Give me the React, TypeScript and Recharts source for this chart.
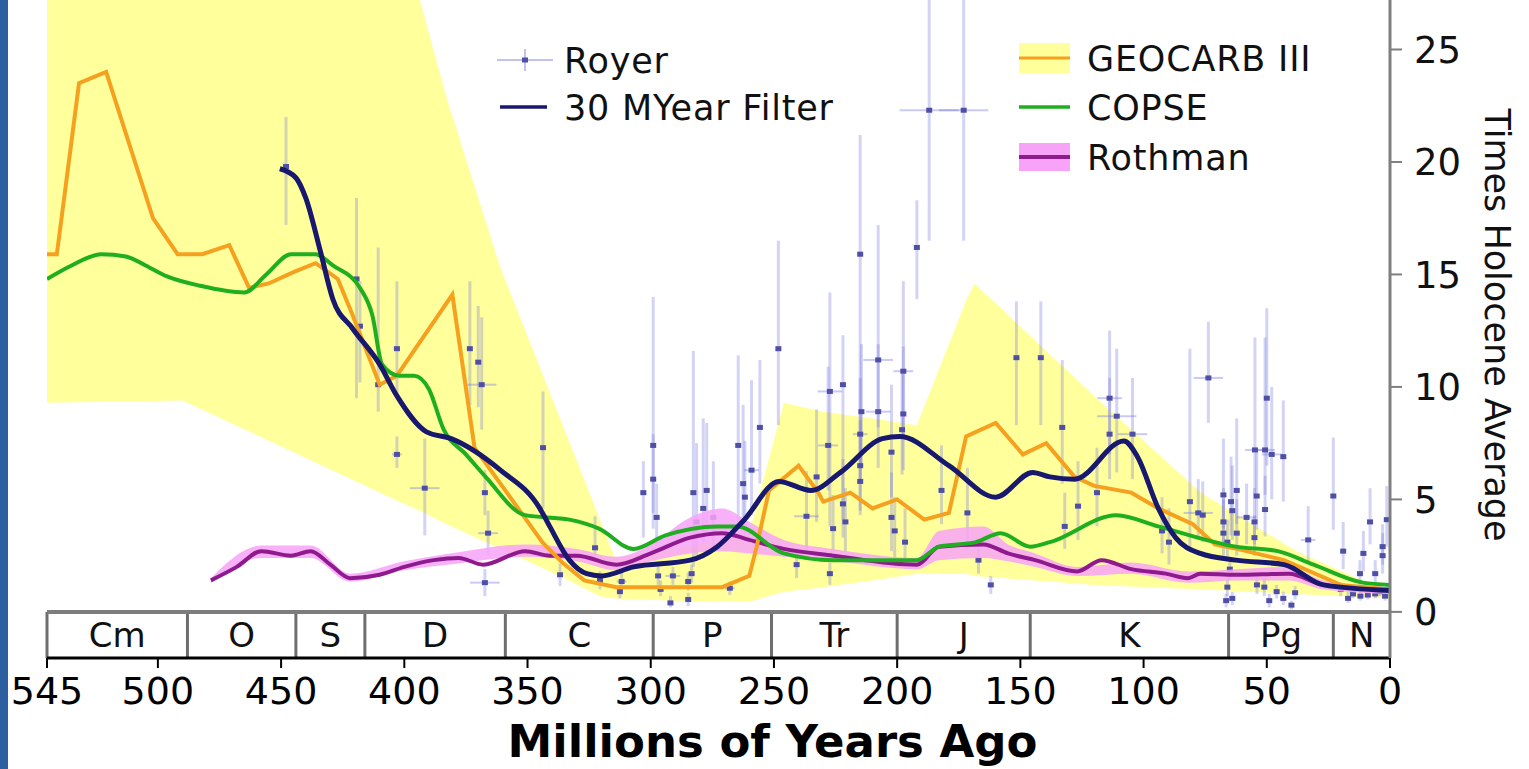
import {
  ComposedChart,
  Line,
  Area,
  Scatter,
  ErrorBar,
  XAxis,
  YAxis,
  ReferenceArea,
  ReferenceLine,
  Legend,
} from 'recharts';

type Pt = [number, number];
type Band = [number, number, number];
// age (Ma), value, error down, error up, age error
type Obs = [number, number, number, number, number];

const FONT = '"DejaVu Sans", Verdana, sans-serif';

const X_TICKS = [545, 500, 450, 400, 350, 300, 250, 200, 150, 100, 50, 0];
const Y_TICKS = [0, 5, 10, 15, 20, 25];
const Y_MIN = -2.05; // room for the period strip under zero
const Y_MAX = 27.2;

const PERIODS: [string, number, number][] = [
  ['Cm', 545, 488],
  ['O', 488, 444],
  ['S', 444, 416],
  ['D', 416, 359],
  ['C', 359, 299],
  ['P', 299, 251],
  ['Tr', 251, 200],
  ['J', 200, 146],
  ['K', 146, 65.5],
  ['Pg', 65.5, 23],
  ['N', 23, 0],
];

const GEOCARB_III: Pt[] = [
  [545, 15.9], [541, 15.9], [532, 23.5], [521, 24.0], [502, 17.5], [492, 15.9],
  [482, 15.9], [471, 16.3], [463, 14.4], [455, 14.6], [445, 15.1], [436, 15.5],
  [427, 14.8], [421, 13.2], [410, 10.1], [403, 10.5], [380.5, 14.1], [371.5, 7.3],
  [361, 5.7], [344, 3.1], [336, 2.2], [327, 1.4], [314, 1.1], [287, 1.1],
  [271, 1.1], [260, 1.6], [257, 2.9], [252, 5.4], [240, 6.5], [232, 5.3],
  [230, 4.9], [219, 5.3], [210, 4.6], [200, 5.0], [189, 4.1], [179, 4.4],
  [172, 7.8], [160, 8.4], [149, 7.0], [139.5, 7.5], [128, 6.0], [120, 5.6],
  [105, 5.3], [94, 4.6], [80, 3.9], [71, 3.0], [62, 2.8], [43, 2.3], [20, 1.2], [0, 1.0],
];

const GEOCARB_BAND: Band[] = [
  [545, 9.3, 31], [490, 9.4, 31], [400, 4.8, 30.3], [393.7, 4.5, 27.2], [382.7, 3.9, 22.8],
  [361, 2.8, 15.3], [335, 1.5, 8.1], [320.6, 0.7, 4.1], [314.5, 0.6, 2.4], [290, 0.5, 2.8],
  [260, 0.45, 3.5], [246, 0.9, 9.3], [230, 1.1, 8.9], [210, 1.4, 8.6], [192, 1.7, 8.3],
  [171.8, 1.7, 13.9], [168.6, 1.6, 14.6], [120, 1.2, 9.6], [76.7, 1.0, 5.3], [38, 0.8, 2.7],
  [0, 0.6, 0.85],
];

const COPSE: Pt[] = [
  [545, 14.8], [535, 15.4], [523, 15.9], [513, 15.8], [505, 15.4], [496, 14.9],
  [483, 14.5], [465, 14.2], [456, 15.0], [446, 15.9], [436, 15.9], [429, 15.4],
  [418, 14.4], [413, 13.2], [409, 11.0], [402, 10.5], [396, 10.5], [390, 9.9],
  [384, 8.1], [375, 7.0], [367, 6.0], [351, 4.3], [333, 4.1], [321, 3.7],
  [307, 2.8], [294, 3.4], [273, 3.8], [265, 3.8], [246, 2.6], [226, 2.3],
  [192, 2.3], [183, 2.9], [168, 3.1], [158, 3.5], [146, 2.9], [138, 3.1],
  [111, 4.3], [94, 3.8], [62.5, 2.9], [45.5, 2.7], [31, 2.1], [11, 1.3], [0, 1.2],
];

const FILTER_30MY: Pt[] = [
  [450.5, 19.7], [444, 19.3], [440, 18.4], [434, 16.0], [429, 13.9], [421, 12.6],
  [410, 11.0], [403, 9.6], [391, 8.0], [381, 7.7], [361, 6.3], [345, 4.6],
  [341, 3.8], [333, 2.3], [326, 1.7], [320, 1.6], [307, 2.0], [284, 2.3],
  [273, 2.9], [262, 4.1], [248, 5.8], [235, 5.4], [223, 6.2], [206, 7.7],
  [199, 7.8], [179, 6.5], [160, 5.1], [145, 6.2], [138, 6.0], [128, 5.9],
  [108, 7.6], [102.5, 6.9], [94, 4.6], [87, 3.3], [77, 2.6], [62.5, 2.3],
  [43, 2.1], [27, 1.2], [0, 0.95],
];

const ROTHMAN: Pt[] = [
  [478.5, 1.4], [468, 2.0], [458, 2.7], [446, 2.5], [438, 2.7], [430, 2.1],
  [422, 1.5], [410, 1.65], [400, 2.0], [388, 2.3], [378, 2.4], [368, 2.1],
  [351, 2.7], [341, 2.5], [330, 2.5], [314, 2.1], [300, 2.6], [284, 3.3],
  [271, 3.5], [260, 3.2], [246, 2.8], [226, 2.5], [192, 2.1], [183, 2.9],
  [165, 3.0], [155, 2.6], [144, 2.3], [127, 1.8], [117, 2.3], [105, 1.9],
  [91, 1.7], [82, 1.5], [77, 1.7], [62.5, 1.65], [41, 1.7], [27, 1.2], [0, 1.0],
];

const ROTHMAN_BAND: Band[] = [
  [478.5, 1.3, 1.5], [458, 2.4, 2.95], [438, 2.4, 2.95], [422, 1.35, 1.7], [400, 1.85, 2.25],
  [378, 2.15, 2.65], [351, 2.45, 3.0], [330, 2.25, 2.8], [314, 1.85, 2.45], [300, 2.25, 3.0],
  [284, 2.6, 4.2], [271, 2.7, 4.6], [260, 2.6, 4.0], [246, 2.45, 3.2], [226, 2.25, 2.8],
  [192, 1.9, 2.4], [183, 2.3, 3.6], [165, 2.4, 3.8], [155, 2.25, 3.0], [144, 2.0, 2.6],
  [127, 1.6, 2.0], [105, 1.7, 2.2], [82, 1.3, 1.8], [62.5, 1.4, 1.9], [41, 1.4, 2.0],
  [27, 1.0, 1.4], [0, 0.8, 1.1],
];

const ROYER: Obs[] = [
  [448, 19.8, 2.6, 2.2, 0],
  [419.4, 14.8, 5.3, 3.6, 0], [418, 12.7, 2.5, 2.0, 0], [410.6, 10.1, 1.2, 6.1, 0],
  [403, 11.7, 2.0, 3.0, 0], [403, 7.0, 0.6, 0.8, 2], [391.7, 5.5, 2.1, 2.2, 6],
  [373.4, 11.7, 2.5, 3.0, 0], [370, 11.1, 2.0, 2.5, 0], [368.6, 10.1, 2.0, 3.0, 6],
  [367.3, 5.3, 1.0, 1.0, 0], [366, 3.5, 1.0, 1.0, 4], [367.3, 1.3, 0.6, 0.6, 6],
  [343.7, 7.3, 2.7, 2.5, 0], [336.8, 1.65, 0.5, 0.5, 0], [322.6, 2.85, 0.6, 1.4, 0],
  [320.6, 1.4, 0.4, 0.4, 0], [311.8, 1.35, 0.4, 0.4, 2], [312.5, 0.9, 0.3, 0.3, 0],
  [303, 5.3, 2.0, 1.4, 0], [299, 7.4, 3.7, 6.6, 0], [299, 5.9, 1.5, 2.0, 0],
  [297.6, 4.2, 1.2, 1.5, 0], [297, 1.6, 0.4, 0.5, 0], [296, 1.0, 0.3, 0.4, 0],
  [292, 0.4, 0.2, 0.3, 0], [291, 1.6, 0.4, 0.4, 3], [284.8, 1.35, 0.4, 0.4, 0],
  [284.8, 0.55, 0.3, 0.3, 0], [283.4, 1.7, 0.4, 0.4, 0], [282.7, 5.3, 3.3, 6.3, 0],
  [281.4, 4.0, 1.5, 3.5, 0], [278.7, 4.6, 1.5, 4.0, 0], [277.3, 5.4, 1.8, 3.0, 0],
  [274.6, 4.2, 1.3, 2.5, 0], [267.9, 1.05, 0.3, 0.3, 2], [264.5, 7.4, 3.5, 4.0, 0],
  [262.5, 5.7, 2.0, 3.5, 0], [261.8, 5.1, 1.7, 2.5, 0], [259.1, 6.3, 2.0, 4.0, 3],
  [255.7, 8.2, 2.5, 3.0, 0], [248.2, 11.7, 3.4, 4.8, 0],
  [240.8, 2.1, 0.6, 0.6, 0], [236.8, 4.25, 1.5, 2.0, 5], [232.7, 6.0, 2.0, 3.0, 0],
  [228, 7.4, 2.0, 3.5, 4], [227.3, 9.8, 6.0, 4.4, 5], [227.3, 1.7, 0.5, 0.5, 0],
  [226, 3.7, 1.0, 1.5, 0], [222, 10.1, 6.0, 2.2, 0], [222, 4.8, 1.5, 2.0, 0],
  [221, 4.0, 1.3, 1.5, 0], [215, 15.9, 7.9, 5.3, 0], [214.5, 8.9, 2.5, 3.0, 0],
  [215, 7.9, 2.0, 2.5, 3], [215, 6.5, 2.0, 2.0, 0], [215, 5.8, 1.5, 2.0, 0],
  [207.7, 11.2, 3.0, 6.0, 6], [207.7, 8.9, 2.5, 3.0, 5], [202.3, 7.1, 2.0, 3.0, 0],
  [202.3, 4.2, 1.5, 2.0, 0], [201, 3.6, 1.2, 1.5, 0], [197.5, 10.7, 3.0, 4.0, 4],
  [197.5, 8.8, 2.5, 3.0, 0], [198, 8.1, 2.0, 2.5, 0], [196.8, 3.1, 1.0, 1.5, 0],
  [192, 16.2, 2.3, 2.1, 0], [187, 22.3, 5.8, 6.0, 12], [173, 22.3, 5.8, 6.0, 10],
  [182, 5.4, 1.5, 2.0, 0], [171.5, 4.4, 1.3, 2.0, 0], [167, 2.3, 0.6, 0.8, 0],
  [162, 1.2, 0.4, 0.4, 0], [151.6, 11.3, 3.0, 2.5, 0], [141.7, 11.3, 3.0, 2.5, 0],
  [133, 8.2, 2.5, 3.0, 0], [126.6, 4.7, 1.5, 2.0, 0], [132, 3.8, 1.0, 1.5, 0],
  [118.9, 5.3, 1.5, 2.0, 0], [113.8, 9.5, 2.5, 3.0, 5], [110.9, 8.7, 2.5, 3.0, 8],
  [113.8, 7.9, 2.0, 2.5, 0], [104.5, 7.9, 2.0, 2.5, 6], [92.5, 3.6, 1.0, 1.5, 0],
  [89.7, 3.1, 1.0, 1.5, 0], [81.2, 4.9, 2.0, 6.8, 0], [77.8, 4.4, 1.2, 1.5, 6],
  [76, 4.3, 1.2, 1.5, 0], [73.7, 10.4, 2.0, 2.5, 6],
  [67.6, 5.2, 1.5, 2.5, 0], [62.2, 5.4, 1.5, 3.2, 0], [64.5, 4.9, 1.5, 2.0, 0],
  [64, 4.5, 1.3, 2.0, 0], [67.6, 4.0, 1.0, 1.5, 0], [67.6, 3.5, 1.0, 1.5, 0],
  [62.2, 3.5, 1.0, 1.5, 0], [66, 3.1, 0.8, 1.0, 0], [65, 1.9, 0.5, 0.5, 0],
  [66, 1.1, 0.4, 0.4, 0], [64, 0.6, 0.3, 0.3, 0], [66.5, 0.5, 0.3, 0.3, 0],
  [54.8, 7.2, 2.0, 5.0, 4], [50.7, 7.2, 2.0, 5.0, 4], [48, 7.0, 2.0, 3.0, 4],
  [43.3, 6.9, 2.0, 2.5, 0], [50, 9.5, 3.0, 4.0, 0], [54.1, 5.15, 1.5, 2.0, 0],
  [58.2, 4.2, 1.2, 1.5, 4], [55, 4.0, 1.0, 1.5, 0], [50.7, 4.55, 1.2, 1.5, 0],
  [55, 3.3, 0.8, 1.0, 0], [54, 1.2, 0.4, 0.4, 0], [51, 1.1, 0.4, 0.4, 0],
  [49, 0.5, 0.3, 0.3, 0], [43.3, 0.6, 0.3, 0.3, 0], [38.5, 0.85, 0.3, 0.3, 0],
  [40, 0.3, 0.2, 0.2, 0], [46, 0.9, 0.3, 0.3, 0], [33.2, 3.2, 1.0, 1.5, 3],
  [23, 5.15, 1.5, 2.6, 0], [19, 2.7, 0.8, 1.3, 0], [8.1, 4.0, 1.0, 1.5, 0],
  [10.8, 2.6, 0.8, 1.0, 0], [1.3, 4.1, 1.2, 1.5, 0], [3, 2.9, 0.8, 1.0, 0],
  [3, 2.5, 0.8, 1.0, 0], [12.2, 1.7, 0.5, 0.6, 0], [6, 1.7, 0.5, 0.6, 0],
  [15, 0.8, 0.2, 0.3, 0], [12, 0.7, 0.2, 0.3, 0], [9, 0.75, 0.2, 0.3, 0],
  [6, 0.8, 0.2, 0.3, 0], [4, 0.9, 0.2, 0.3, 0], [2, 0.7, 0.2, 0.3, 0],
  [20, 1.0, 0.3, 0.3, 0], [17, 0.6, 0.2, 0.3, 0],
];

const toLine = (pts: Pt[]) => pts.map(([x, y]) => ({ x, y }));
const toBand = (pts: Band[]) => pts.map(([x, lo, hi]) => ({ x, range: [lo, hi] }));
const royerData = ROYER.map(([x, y, dn, up, ex]) => ({ x, y, ey: [dn, up], ex }));

const RoyerMark = (props: any) => {
  const { cx, cy } = props;
  if (cx == null || cy == null) return null;
  return <rect x={cx - 3} y={cy - 2.5} width={6} height={5} fill="#4f4fa6" />;
};

function XTitle({ viewBox }: any) {
  if (!viewBox) return null;
  const cx = viewBox.x + viewBox.width / 2 + 54;
  return (
    <text x={cx} y={viewBox.y + viewBox.height - 12} textAnchor="middle" fontFamily={FONT} fontWeight="bold" fontSize={45} fill="#000">
      Millions of Years Ago
    </text>
  );
}

function YTitle({ viewBox }: any) {
  if (!viewBox) return null;
  const cx = viewBox.x + viewBox.width - 32;
  const cy = viewBox.y + viewBox.height / 2 - 4;
  return (
    <text x={cx} y={cy} transform={`rotate(90, ${cx}, ${cy})`} textAnchor="middle" dominantBaseline="central" fontFamily={FONT} fontSize={35} fill="#111">
      Times Holocene Average
    </text>
  );
}

// legend layout in pixels (not data)
const LEGEND_ROWS = [
  { label: 'Royer', icon: 'royer', iconX: 497, textX: 564, cy: 60 },
  { label: '30 MYear Filter', icon: 'filter', iconX: 497, textX: 564, cy: 107 },
  { label: 'GEOCARB III', icon: 'geocarb', iconX: 1019, textX: 1087, cy: 58 },
  { label: 'COPSE', icon: 'copse', iconX: 1019, textX: 1087, cy: 107 },
  { label: 'Rothman', icon: 'rothman', iconX: 1019, textX: 1087, cy: 157 },
];

function LegendIcon({ kind }: { kind: string }) {
  return (
    <svg width={56} height={34} style={{ display: 'block' }}>
      {kind === 'royer' && (
        <g>
          <line x1={0} x2={56} y1={17} y2={17} stroke="rgba(120,120,225,0.45)" strokeWidth={2} />
          <line x1={28} x2={28} y1={6} y2={28} stroke="rgba(120,120,225,0.45)" strokeWidth={2} />
          <rect x={25} y={14.5} width={6} height={5} fill="#4f4fa6" />
        </g>
      )}
      {kind === 'filter' && <line x1={3} x2={50} y1={17} y2={17} stroke="#18186e" strokeWidth={3.5} />}
      {kind === 'geocarb' && (
        <g>
          <rect x={0} y={2} width={51} height={30} fill="#ffff9c" />
          <line x1={0} x2={51} y1={17} y2={17} stroke="#f5a01e" strokeWidth={3} />
        </g>
      )}
      {kind === 'copse' && <line x1={0} x2={51} y1={17} y2={17} stroke="#1fae1f" strokeWidth={3.5} />}
      {kind === 'rothman' && (
        <g>
          <rect x={0} y={3} width={51} height={28} fill="#f7a3f7" />
          <line x1={0} x2={51} y1={17} y2={17} stroke="#8e1a8e" strokeWidth={4} />
        </g>
      )}
    </svg>
  );
}

function LegendPanel() {
  return (
    <div style={{ position: 'relative', width: 1529, height: 190, fontFamily: FONT, fontSize: 35, letterSpacing: 0.8, color: '#111' }}>
      {LEGEND_ROWS.map((r) => (
        <div key={r.label}>
          <div style={{ position: 'absolute', left: r.iconX, top: r.cy - 17 }}>
            <LegendIcon kind={r.icon} />
          </div>
          <div style={{ position: 'absolute', left: r.textX, top: r.cy - 19.5, lineHeight: '40px', whiteSpace: 'nowrap' }}>
            {r.label}
          </div>
        </div>
      ))}
    </div>
  );
}

export default function App() {
  return (
    <div style={{ position: 'relative', width: 1529, height: 769, background: '#fff', fontFamily: FONT }}>
      <style>{'body{margin:0}'}</style>
      <div style={{ position: 'absolute', left: 0, top: 0, width: 8, height: 769, background: '#2b5f9f' }} />
      <ComposedChart width={1529} height={769} margin={{ top: 0, right: 0, bottom: 0, left: 47 }}>
        <XAxis
          dataKey="x"
          type="number"
          domain={[0, 545]}
          reversed
          allowDataOverflow
          ticks={X_TICKS}
          interval={0}
          height={111}
          axisLine={{ stroke: '#000', strokeWidth: 3 }}
          tickLine={{ stroke: '#000', strokeWidth: 2 }}
          tickSize={10}
          tickMargin={9}
          tick={{ fontSize: 38, fill: '#000', fontFamily: FONT }}
          label={<XTitle />}
        />
        <YAxis
          orientation="right"
          width={139}
          domain={[Y_MIN, Y_MAX]}
          allowDataOverflow
          ticks={Y_TICKS}
          interval={0}
          axisLine={{ stroke: '#7f7f7f', strokeWidth: 3 }}
          tickLine={{ stroke: '#7f7f7f', strokeWidth: 2 }}
          tickSize={12}
          tickMargin={12}
          tick={{ fontSize: 37, fill: '#111', fontFamily: FONT }}
          label={<YTitle />}
        />

        {PERIODS.map(([name, from, to]) => (
          <ReferenceArea
            key={name}
            x1={from}
            x2={to}
            y1={Y_MIN}
            y2={0}
            fill="#fff"
            fillOpacity={1}
            stroke="none"
            label={{ value: name, position: 'center', fill: '#111', fontSize: 34, fontFamily: FONT }}
          />
        ))}
        {PERIODS.map(([name, from]) => (
          <ReferenceLine
            key={`b-${name}`}
            segment={[{ x: from, y: Y_MIN }, { x: from, y: 0 }]}
            stroke="#6e6e6e"
            strokeWidth={3}
          />
        ))}
        <ReferenceLine y={0} stroke="#7d7d7d" strokeWidth={4} />

        <Area
          data={toBand(GEOCARB_BAND)}
          dataKey="range"
          type="linear"
          fill="#ffff9c"
          fillOpacity={1}
          stroke="none"
          isAnimationActive={false}
          activeDot={false}
          zIndex={100}
        />
        <Scatter data={royerData} dataKey="y" shape={RoyerMark} isAnimationActive={false} zIndex={150}>
          <ErrorBar dataKey="ey" direction="y" width={0} stroke="rgba(120,120,225,0.33)" strokeWidth={3} isAnimationActive={false} zIndex={150} />
          <ErrorBar dataKey="ex" direction="x" width={0} stroke="rgba(120,120,225,0.4)" strokeWidth={2} isAnimationActive={false} zIndex={150} />
        </Scatter>
        <Area
          data={toBand(ROTHMAN_BAND)}
          dataKey="range"
          type="monotone"
          fill="#f7a3f7"
          fillOpacity={0.85}
          stroke="none"
          isAnimationActive={false}
          activeDot={false}
          zIndex={200}
        />
        <Line data={toLine(ROTHMAN)} dataKey="y" type="monotone" stroke="#8e1a8e" strokeWidth={4} dot={false} activeDot={false} isAnimationActive={false} />
        <Line data={toLine(GEOCARB_III)} dataKey="y" type="linear" stroke="#f5a01e" strokeWidth={4} dot={false} activeDot={false} isAnimationActive={false} />
        <Line data={toLine(COPSE)} dataKey="y" type="monotone" stroke="#1fae1f" strokeWidth={4} dot={false} activeDot={false} isAnimationActive={false} />
        <Line data={toLine(FILTER_30MY)} dataKey="y" type="monotone" stroke="#18186e" strokeWidth={5} dot={false} activeDot={false} isAnimationActive={false} />

        <Legend
          layout="vertical"
          align="center"
          verticalAlign="middle"
          content={<LegendPanel />}
          wrapperStyle={{ left: 0, top: 0, width: 1529, height: 190, pointerEvents: 'none' }}
        />
      </ComposedChart>
    </div>
  );
}
